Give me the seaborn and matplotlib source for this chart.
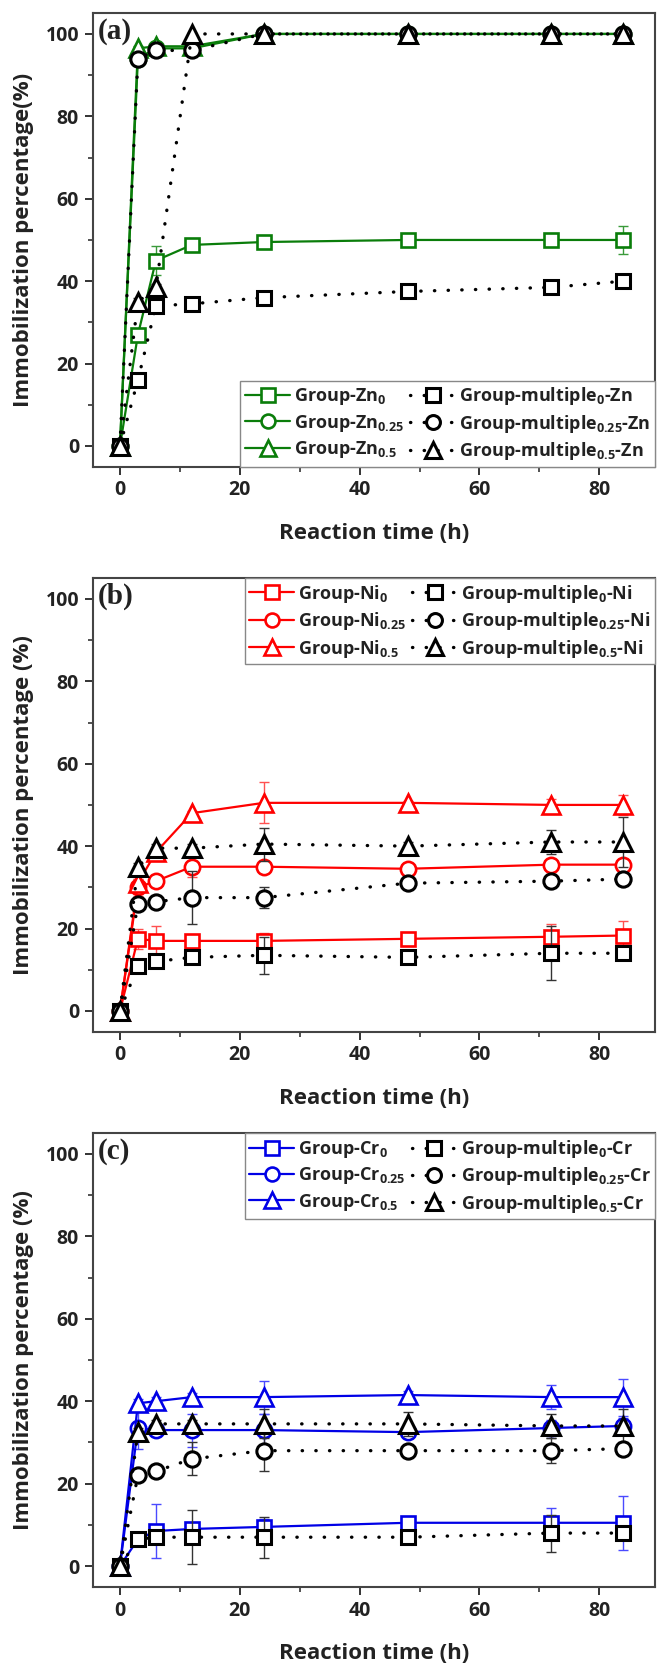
import numpy as np
import pandas as pd
import matplotlib
matplotlib.use("Agg")
import matplotlib.pyplot as plt
from matplotlib.lines import Line2D
from matplotlib.ticker import MultipleLocator
import seaborn as sns

# ---------------- data ----------------
t = [0, 3, 6, 12, 24, 48, 72, 84]

# (a) Zn
zn_0 = [0, 27, 45, 48.8, 49.5, 50, 50, 50]
zn_0_err = [0.5, 1, 3.5, 1, 0.5, 0.5, 0.5, 3.5]
zn_025 = [0, 94, 96.5, 96.5, 100, 100, 100, 100]
zn_025_err = [0.3, 0.5, 0.5, 0.5, 0.3, 0.3, 0.3, 0.3]
zn_05 = [0, 96.5, 97, 97, 100, 100, 100, 100]
zn_05_err = [0.3, 0.5, 0.5, 0.5, 0.3, 0.3, 0.3, 0.3]
mzn_0 = [0, 16, 34, 34.5, 36, 37.5, 38.5, 40]
mzn_0_err = [0.3, 0.8, 0.8, 0.8, 0.8, 1.2, 0.8, 0.8]
mzn_025 = [0, 94, 96, 96, 100, 100, 100, 100]
mzn_025_err = [0.3, 0.5, 0.5, 0.5, 0.3, 0.3, 0.3, 0.3]
mzn_05 = [0, 35, 38.5, 100, 100, 100, 100, 100]
mzn_05_err = [0.3, 0.8, 0.8, 0.3, 0.3, 0.3, 0.3, 0.3]

# (b) Ni
ni_0 = [0, 17.5, 17, 17, 17, 17.5, 18, 18.3]
ni_0_err = [0.5, 2.5, 3.5, 1, 2, 1, 3, 3.5]
ni_025 = [0, 30, 31.5, 35, 35, 34.5, 35.5, 35.5]
ni_025_err = [0.5, 2, 1, 2.5, 1, 1, 1, 1]
ni_05 = [0, 31, 38.5, 48, 50.5, 50.5, 50, 50]
ni_05_err = [0.5, 1, 1, 0.5, 5, 0.5, 1.5, 2.5]
mni_0 = [0, 11, 12, 13, 13.5, 13, 14, 14]
mni_0_err = [0.5, 1, 1, 1, 4.5, 1, 6.5, 1]
mni_025 = [0, 26, 26.5, 27.5, 27.5, 31, 31.5, 32]
mni_025_err = [0.5, 1, 1, 6.5, 2.5, 1, 1, 1]
mni_05 = [0, 35, 39.5, 39.5, 40.5, 40, 41, 41]
mni_05_err = [0.5, 1, 1, 1, 4, 1, 3, 6]

# (c) Cr
cr_0 = [0, 6.5, 8.5, 9, 9.5, 10.5, 10.5, 10.5]
cr_0_err = [0.5, 1, 6.5, 1, 2, 1, 3.5, 6.5]
cr_025 = [0, 33.5, 33, 33, 33, 32.5, 33.5, 34]
cr_025_err = [0.5, 5, 1, 4, 4, 1, 2, 2]
cr_05 = [0, 39.5, 40, 41, 41, 41.5, 41, 41]
cr_05_err = [0.5, 1, 1, 1, 4, 1, 3, 4.5]
mcr_0 = [0, 6.5, 7, 7, 7, 7, 8, 8]
mcr_0_err = [0.5, 1, 1, 6.5, 5, 1, 4.5, 1]
mcr_025 = [0, 22, 23, 26, 28, 28, 28, 28.5]
mcr_025_err = [0.5, 1, 1, 4, 5, 1, 3, 1]
mcr_05 = [0, 32.5, 34.5, 34.5, 34.5, 34.5, 34, 34]
mcr_05_err = [0.5, 1, 1, 1, 3.5, 3, 3, 4]

panels = [
    ("(a)", "Zn", "#0a7d0a", "#3a9a3a", "Immobilization percentage(%)", "lower right",
     [(zn_0, zn_0_err), (zn_025, zn_025_err), (zn_05, zn_05_err)],
     [(mzn_0, mzn_0_err), (mzn_025, mzn_025_err), (mzn_05, mzn_05_err)]),
    ("(b)", "Ni", "#ff0000", "#ff5050", "Immobilization percentage (%)", "upper right",
     [(ni_0, ni_0_err), (ni_025, ni_025_err), (ni_05, ni_05_err)],
     [(mni_0, mni_0_err), (mni_025, mni_025_err), (mni_05, mni_05_err)]),
    ("(c)", "Cr", "#0000e6", "#4a4aff", "Immobilization percentage (%)", "upper right",
     [(cr_0, cr_0_err), (cr_025, cr_025_err), (cr_05, cr_05_err)],
     [(mcr_0, mcr_0_err), (mcr_025, mcr_025_err), (mcr_05, mcr_05_err)]),
]
levels = ["0", "0.25", "0.5"]
markers = ["s", "o", "^"]
msizes = [10.5, 11, 12.5]

# ---------------- style ----------------
sns.set_theme(style="ticks")
plt.rcParams["font.family"] = ["Open Sans", "DejaVu Sans"]
plt.rcParams["mathtext.fontset"] = "custom"
plt.rcParams["mathtext.rm"] = "Open Sans"
plt.rcParams["mathtext.bf"] = "Open Sans:bold"
plt.rcParams["mathtext.default"] = "bf"

fig = plt.figure(figsize=(6.59, 16.67), dpi=100)
bottoms = [0.7201, 0.3812, 0.0482]
left, width, height = 0.1411, 0.8528, 0.2719

dotted = (0, (0.1, 4.0))

for (tag, metal, col, ecol, ylab, loc, own, mult), b in zip(panels, bottoms):
    ax = fig.add_axes([left, b, width, height])

    handles = []
    # coloured series: solid lines
    for i, (vals, errs) in enumerate(own):
        ax.errorbar(t, vals, yerr=errs, fmt="none", ecolor=ecol, elinewidth=1,
                    capsize=3.5, capthick=1, zorder=2)
        df = pd.DataFrame({"t": t, "v": vals})
        sns.lineplot(data=df, x="t", y="v", ax=ax, color=col, lw=1.6,
                     marker=markers[i], markersize=msizes[i], markerfacecolor="white",
                     markeredgecolor=col, markeredgewidth=1.9, zorder=3)
        handles.append(Line2D([], [], color=col, lw=1.6, marker=markers[i],
                              markersize=msizes[i] - 1, markerfacecolor="white",
                              markeredgecolor=col, markeredgewidth=1.9,
                              label=f"Group-{metal}$_{{{levels[i]}}}$"))
    # group-multiple series: black dotted lines
    for i, (vals, errs) in enumerate(mult):
        ax.errorbar(t, vals, yerr=errs, fmt="none", ecolor="#333333", elinewidth=1,
                    capsize=3.5, capthick=1, zorder=4)
        df = pd.DataFrame({"t": t, "v": vals})
        sns.lineplot(data=df, x="t", y="v", ax=ax, color="black", lw=2.4,
                     linestyle=dotted, dash_capstyle="round",
                     marker=markers[i], markersize=msizes[i], markerfacecolor="white",
                     markeredgecolor="black", markeredgewidth=2.2, zorder=5)
        handles.append(Line2D([], [], color="black", lw=2.4, linestyle=dotted,
                              dash_capstyle="round", marker=markers[i],
                              markersize=msizes[i] - 1, markerfacecolor="white",
                              markeredgecolor="black", markeredgewidth=2.2,
                              label=f"Group-multiple$_{{{levels[i]}}}$-{metal}"))

    ax.set_xlim(-4.5, 89.3)
    ax.set_ylim(-5, 105)
    ax.xaxis.set_major_locator(MultipleLocator(20))
    ax.xaxis.set_minor_locator(MultipleLocator(10))
    ax.yaxis.set_major_locator(MultipleLocator(20))
    ax.yaxis.set_minor_locator(MultipleLocator(10))
    ax.tick_params(which="major", direction="out", length=6, width=1.4,
                   color="#333333", labelsize=14, pad=4)
    ax.tick_params(which="minor", direction="out", length=3.5, width=1.2,
                   color="#333333")
    for lab in ax.get_xticklabels() + ax.get_yticklabels():
        lab.set_fontweight("bold")
        lab.set_color("#222222")
    for sp in ax.spines.values():
        sp.set_visible(True)
        sp.set_linewidth(1.5)
        sp.set_color("#444444")

    ax.set_xlabel("Reaction time (h)", fontsize=16, fontweight="bold",
                  color="#222222", labelpad=16)
    ax.set_ylabel(ylab, fontsize=16, fontweight="bold", color="#222222", labelpad=8)

    ax.text(0.008, 0.99, tag, transform=ax.transAxes, ha="left", va="top",
            fontsize=21, fontweight="bold", family="Liberation Serif", color="#222222")

    leg = ax.legend(handles=handles, loc=loc, ncol=2, fontsize=13,
                    frameon=True, fancybox=False, framealpha=1, edgecolor="#888888",
                    borderaxespad=0, borderpad=0.25, handlelength=2.5,
                    handletextpad=0.2, columnspacing=0.35, labelspacing=0.3)
    leg.get_frame().set_linewidth(1.0)
    for txt in leg.get_texts():
        txt.set_fontweight("bold")
        txt.set_color("#222222")

fig.savefig("out.png", dpi=100)
